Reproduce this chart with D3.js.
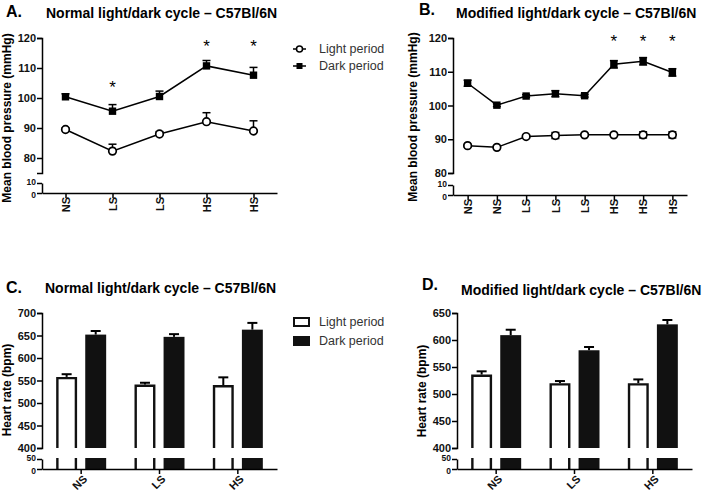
<!DOCTYPE html>
<html>
<head>
<meta charset="utf-8">
<script src="https://cdn.jsdelivr.net/npm/d3@7"></script>
<style>
  body { margin: 0; background: #fff; }
  svg { font-family: "Liberation Sans", Arial, sans-serif; }
</style>
</head>
<body>
<svg id="chart" width="727" height="497"></svg>
<script>
// ---- data ----
const catsA = ["NS", "LS", "LS", "HS", "HS"];
const lightA = [89.5, 82.3, 88.0, 92.1, 89.0];
const lightErrA = [0.5, 2.3, 0.8, 3.0, 3.4];
const darkA = [100.4, 95.6, 100.5, 110.7, 107.6];
const darkErrA = [1.0, 2.2, 1.8, 1.8, 2.6];
const starsA = [null, 104.7, null, 118.3, 118.3];

const catsB = ["NS", "NS", "LS", "LS", "LS", "HS", "HS", "HS"];
const lightB = [88.1, 87.6, 90.8, 91.1, 91.3, 91.3, 91.3, 91.3];
const lightErrB = [0.3, 0.3, 0.4, 0.9, 0.3, 0.3, 0.9, 0.9];
const darkB = [106.6, 100.1, 102.8, 103.5, 102.9, 112.2, 113.1, 109.8];
const darkErrB = [0.9, 0.4, 0.4, 0.9, 0.4, 1.1, 1.1, 1.1];
const starsB = [null, null, null, null, null, 120, 120, 120];

const groups = ["NS", "LS", "HS"];
const lightC = [558, 541, 540];
const lightErrC = [6, 4, 17];
const darkC = [652, 647, 663];
const darkErrC = [8, 6, 15];

const lightD = [536, 520, 520];
const lightErrD = [6, 4, 7];
const darkD = [609, 581, 629];
const darkErrD = [10, 6, 8];

const bpTicks = [80, 90, 100, 110, 120];
const bpLowTicks = [0, 10];
const hrTicksC = [400, 450, 500, 550, 600, 650, 700];
const hrTicksD = [400, 450, 500, 550, 600, 650];
const hrLowTicks = [0, 50];

const svg = d3.select("#chart");

function styleAxis(g, size) {
    g.select(".domain").attr("stroke", "#000").attr("stroke-width", 1.5);
    g.selectAll(".tick line").attr("stroke", "#000").attr("stroke-width", 1.5);
    g.selectAll(".tick text")
        .attr("fill", "#111")
        .style("font-size", size + "px")
        .style("font-weight", "bold");
}

function drawYAxes(p) {
    const up = svg.append("g")
        .attr("transform", `translate(${p.x0},0)`)
        .call(d3.axisLeft(p.yUp).tickValues(p.ticks).tickSize(5).tickSizeOuter(5).tickPadding(1));
    styleAxis(up, 11);
    const low = svg.append("g")
        .attr("transform", `translate(${p.x0},0)`)
        .call(d3.axisLeft(p.yLow).tickValues(p.lowTicks).tickSize(5).tickSizeOuter(0).tickPadding(1));
    styleAxis(low, 8.5);
    low.selectAll(".tick text").attr("dy", d => d === 0 ? "0.5em" : "0.15em");

    svg.append("text")
        .attr("transform", `translate(${p.labelX},${p.labelY}) rotate(-90)`)
        .attr("text-anchor", "middle")
        .style("font-size", "12px")
        .style("font-weight", "bold")
        .text(p.yLabel);
}

function drawTitle(p) {
    svg.append("text")
        .attr("x", p.letterX).attr("y", p.letterY)
        .style("font-size", "16px").style("font-weight", "bold")
        .text(p.letter);
    svg.append("text")
        .attr("x", p.titleX).attr("y", p.titleY)
        .style("font-size", "14px").style("font-weight", "bold")
        .text(p.title);
}

function linePanel(p) {
    const x = d3.scalePoint().domain(d3.range(p.cats.length)).range(p.xRange).padding(0.5);
    p.x0 = p.xRange[0];
    drawYAxes(p);

    const xa = svg.append("g")
        .attr("transform", `translate(0,${p.yLow(0)})`)
        .call(d3.axisBottom(x).tickSize(5).tickSizeOuter(0).tickFormat(i => p.cats[i]));
    styleAxis(xa, 11);
    xa.selectAll(".tick text")
        .attr("text-anchor", "end")
        .attr("transform", "translate(0,4) rotate(-90)")
        .attr("x", 0).attr("y", 0).attr("dy", "0.35em");

    const series = [
        { vals: p.light, errs: p.lightErr, kind: "light" },
        { vals: p.dark, errs: p.darkErr, kind: "dark" }
    ];
    const line = d3.line().x((d, i) => x(i)).y(d => p.yUp(d));
    series.forEach(s => {
        svg.append("path")
            .datum(s.vals)
            .attr("d", line)
            .attr("fill", "none")
            .attr("stroke", "#000")
            .attr("stroke-width", 1.5);

        const eb = svg.append("g").attr("stroke", "#000").attr("stroke-width", 1.5);
        s.vals.forEach((v, i) => {
            const lo = p.symmetric ? v - s.errs[i] : v;
            const hi = v + s.errs[i];
            eb.append("line").attr("x1", x(i)).attr("x2", x(i))
                .attr("y1", p.yUp(lo)).attr("y2", p.yUp(hi));
            eb.append("line").attr("x1", x(i) - 4).attr("x2", x(i) + 4)
                .attr("y1", p.yUp(hi)).attr("y2", p.yUp(hi));
            if (p.symmetric) {
                eb.append("line").attr("x1", x(i) - 4).attr("x2", x(i) + 4)
                    .attr("y1", p.yUp(lo)).attr("y2", p.yUp(lo));
            }
        });

        if (s.kind === "light") {
            svg.selectAll(null).data(s.vals).enter().append("circle")
                .attr("cx", (d, i) => x(i)).attr("cy", d => p.yUp(d))
                .attr("r", 3.8)
                .attr("fill", "#fff").attr("stroke", "#000").attr("stroke-width", 1.7);
        } else {
            svg.selectAll(null).data(s.vals).enter().append("rect")
                .attr("x", (d, i) => x(i) - 3.7).attr("y", d => p.yUp(d) - 3.7)
                .attr("width", 7.4).attr("height", 7.4)
                .attr("fill", "#000");
        }
    });

    p.stars.forEach((s, i) => {
        if (s === null) return;
        svg.append("text")
            .attr("x", x(i)).attr("y", p.yUp(s) + 9)
            .attr("text-anchor", "middle")
            .style("font-size", "17px")
            .text("*");
    });

    drawTitle(p);
}

function barPanel(p) {
    const x0 = d3.scaleBand().domain(groups).range(p.xRange);
    const bw = x0.bandwidth();
    const x1 = d3.scaleBand().domain(["light", "dark"]).range([bw / 2 - 25, bw / 2 + 25]).paddingInner(0.28);
    p.x0 = p.xRange[0];
    drawYAxes(p);

    const series = [
        { key: "light", vals: p.light, errs: p.lightErr },
        { key: "dark", vals: p.dark, errs: p.darkErr }
    ];
    const lowTop = p.yLow(55);
    series.forEach(s => {
        s.vals.forEach((v, i) => {
            const left = x0(groups[i]) + x1(s.key);
            const w = x1.bandwidth();
            const cx = left + w / 2;
            const base = p.yUp(p.ticks[0]);
            const top = p.yUp(v);
            const hi = p.yUp(v + s.errs[i]);
            // error bar
            svg.append("line").attr("x1", cx).attr("x2", cx).attr("y1", top).attr("y2", hi)
                .attr("stroke", "#000").attr("stroke-width", 2);
            svg.append("line").attr("x1", cx - 5).attr("x2", cx + 5).attr("y1", hi).attr("y2", hi)
                .attr("stroke", "#000").attr("stroke-width", 2);
            if (s.key === "dark") {
                svg.append("rect").attr("x", left).attr("y", top)
                    .attr("width", w).attr("height", base - top).attr("fill", "#111");
                svg.append("rect").attr("x", left).attr("y", lowTop)
                    .attr("width", w).attr("height", p.yLow(0) - lowTop).attr("fill", "#111");
            } else {
                const a = left + 1.2, b = left + w - 1.2;
                svg.append("path")
                    .attr("d", `M${a},${base}V${top + 1.2}H${b}V${base}`)
                    .attr("fill", "#fff").attr("stroke", "#111").attr("stroke-width", 2.4);
                svg.append("path")
                    .attr("d", `M${a},${lowTop}V${p.yLow(0)}M${b},${lowTop}V${p.yLow(0)}`)
                    .attr("stroke", "#111").attr("stroke-width", 2.4);
            }
        });
    });

    const xa = svg.append("g")
        .attr("transform", `translate(0,${p.yLow(0)})`)
        .call(d3.axisBottom(x0).tickSize(5).tickSizeOuter(0));
    styleAxis(xa, 11);
    xa.selectAll(".tick text")
        .attr("text-anchor", "end")
        .attr("transform", "translate(4,8) rotate(-45)")
        .attr("x", 0).attr("y", 0).attr("dy", "0.35em");

    drawTitle(p);
}

function legend(x, y, kind) {
    const rows = [["Light period", "light"], ["Dark period", "dark"]];
    rows.forEach((r, i) => {
        const cy = y + i * (kind === "line" ? 17 : 19);
        if (kind === "line") {
            svg.append("line").attr("x1", x).attr("x2", x + 13).attr("y1", cy).attr("y2", cy)
                .attr("stroke", "#000").attr("stroke-width", 1.5);
            if (r[1] === "light") {
                svg.append("circle").attr("cx", x + 6.5).attr("cy", cy).attr("r", 3)
                    .attr("fill", "#fff").attr("stroke", "#000").attr("stroke-width", 1.5);
            } else {
                svg.append("rect").attr("x", x + 3.5).attr("y", cy - 3).attr("width", 6).attr("height", 6)
                    .attr("fill", "#000");
            }
        } else {
            svg.append("rect").attr("x", x + 1).attr("y", cy - 4).attr("width", 15).attr("height", 8)
                .attr("fill", r[1] === "light" ? "#fff" : "#111")
                .attr("stroke", "#111").attr("stroke-width", 2);
        }
        svg.append("text").attr("x", x + 26).attr("y", cy).attr("dy", "0.35em")
            .style("font-size", "12.5px").attr("fill", "#333")
            .text(r[0]);
    });
}

linePanel({
    cats: catsA, light: lightA, lightErr: lightErrA, dark: darkA, darkErr: darkErrA, stars: starsA,
    symmetric: false,
    xRange: [42, 277],
    yUp: d3.scaleLinear().domain([75, 120]).range([173, 38]),
    yLow: d3.scaleLinear().domain([0, 10]).range([193, 183]),
    ticks: bpTicks, lowTicks: bpLowTicks,
    yLabel: "Mean blood pressure (mmHg)", labelX: 11, labelY: 118,
    letter: "A.", letterX: 6, letterY: 17,
    title: "Normal light/dark cycle \u2013 C57Bl/6N", titleX: 46, titleY: 18
});

linePanel({
    cats: catsB, light: lightB, lightErr: lightErrB, dark: darkB, darkErr: darkErrB, stars: starsB,
    symmetric: true,
    xRange: [453, 687],
    yUp: d3.scaleLinear().domain([80, 120]).range([173, 38]),
    yLow: d3.scaleLinear().domain([0, 10]).range([195, 185]),
    ticks: bpTicks, lowTicks: bpLowTicks,
    yLabel: "Mean blood pressure (mmHg)", labelX: 417, labelY: 117,
    letter: "B.", letterX: 419, letterY: 15,
    title: "Modified light/dark cycle \u2013 C57Bl/6N", titleX: 456, titleY: 18
});

barPanel({
    light: lightC, lightErr: lightErrC, dark: darkC, darkErr: darkErrC,
    xRange: [42, 277],
    yUp: d3.scaleLinear().domain([400, 700]).range([448, 313]),
    yLow: d3.scaleLinear().domain([0, 50]).range([469, 459]),
    ticks: hrTicksC, lowTicks: hrLowTicks,
    yLabel: "Heart rate (bpm)", labelX: 11, labelY: 390,
    letter: "C.", letterX: 6, letterY: 293,
    title: "Normal light/dark cycle \u2013 C57Bl/6N", titleX: 45, titleY: 293
});

barPanel({
    light: lightD, lightErr: lightErrD, dark: darkD, darkErr: darkErrD,
    xRange: [457, 692],
    yUp: d3.scaleLinear().domain([400, 650]).range([448, 313]),
    yLow: d3.scaleLinear().domain([0, 50]).range([469, 459]),
    ticks: hrTicksD, lowTicks: hrLowTicks,
    yLabel: "Heart rate (bpm)", labelX: 426, labelY: 391,
    letter: "D.", letterX: 422, letterY: 290,
    title: "Modified light/dark cycle \u2013 C57Bl/6N", titleX: 461, titleY: 295
});

legend(293, 49, "line");
legend(293, 322, "bar");
</script>
</body>
</html>
